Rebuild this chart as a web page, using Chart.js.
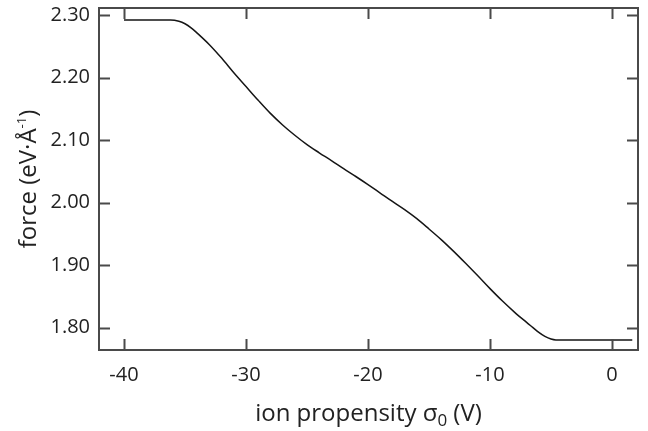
<!DOCTYPE html>
<html>
<head>
<meta charset="utf-8">
<script src="https://cdn.jsdelivr.net/npm/chart.js@4/dist/chart.umd.min.js"></script>
<style>
  body { margin: 0; background: #fff; }
  canvas { display: block; }
</style>
</head>
<body>
<canvas id="force-curve" width="648" height="431"></canvas>
<script>
// ion propensity sigma0 (V) vs force (eV/A)
var sigmaValues = [-40, -36.2, -35.5, -35.0, -34.5, -34.0, -33.0, -32.0, -31.0, -30.0, -29.0, -28.0,
  -27.0, -26.0, -25.0, -24.0, -23.0, -22.0, -21.0, -20.0, -19.0, -18.0, -17.0, -16.0, -15.0,
  -14.0, -13.0, -12.0, -11.0, -10.0, -9.0, -8.0, -7.0, -6.5, -6.0, -5.5, -5.0, -4.6, 1.66];
var forceValues = [2.2925, 2.2925, 2.2905, 2.2865, 2.2800, 2.2715, 2.2530, 2.2315, 2.2080, 2.1860, 2.1640, 2.1430,
  2.1245, 2.1080, 2.0930, 2.0800, 2.0675, 2.0545, 2.0420, 2.0290, 2.0155, 2.0020, 1.9890, 1.9745, 1.9580,
  1.9410, 1.9225, 1.9030, 1.8830, 1.8625, 1.8430, 1.8250, 1.8085, 1.8005, 1.7925, 1.7860, 1.7818, 1.7805, 1.7805];
var xTicks = [-40, -30, -20, -10, 0];
var yTicks = [1.80, 1.90, 2.00, 2.10, 2.20, 2.30];

var points = sigmaValues.map(function (s, i) {
  return { x: s, y: forceValues[i] };
});

var FONT = "'Open Sans', sans-serif";
var INK = '#222222';

// frame with inward ticks on all four sides, plus axis titles with sub/superscripts
var framePlugin = {
  id: 'frame',
  afterDraw: function (chart) {
    var ctx = chart.ctx;
    var a = chart.chartArea;
    var xs = chart.scales.x, ys = chart.scales.y;
    var tl = 11;
    ctx.save();
    ctx.strokeStyle = '#4a4a4a';
    ctx.lineWidth = 2;
    ctx.strokeRect(a.left, a.top, a.right - a.left, a.bottom - a.top);
    ctx.beginPath();
    xTicks.forEach(function (v) {
      var px = Math.round(xs.getPixelForValue(v)) + 0.5;
      ctx.moveTo(px, a.bottom); ctx.lineTo(px, a.bottom - tl);
      ctx.moveTo(px, a.top); ctx.lineTo(px, a.top + tl);
    });
    yTicks.forEach(function (v) {
      var py = Math.round(ys.getPixelForValue(v)) + 0.5;
      ctx.moveTo(a.left, py); ctx.lineTo(a.left + tl, py);
      ctx.moveTo(a.right, py); ctx.lineTo(a.right - tl, py);
    });
    ctx.stroke();

    // x title: ion propensity sigma_0 (V)
    ctx.fillStyle = INK;
    ctx.textBaseline = 'alphabetic';
    var big = '24px ' + FONT, small = '17px ' + FONT, sup = '13px ' + FONT;
    ctx.font = big;
    var p1 = 'ion propensity \u03C3', p3 = ' (V)';
    var w1 = ctx.measureText(p1).width, w3 = ctx.measureText(p3).width;
    ctx.font = small;
    var w2 = ctx.measureText('0').width;
    var cx = (a.left + a.right) / 2;
    var x0 = cx - (w1 + w2 + w3) / 2;
    var base = 421;
    ctx.textAlign = 'left';
    ctx.font = big; ctx.fillText(p1, x0, base);
    ctx.font = small; ctx.fillText('0', x0 + w1, base + 5);
    ctx.font = big; ctx.fillText(p3, x0 + w1 + w2, base);

    // y title: force (eV.A^-1)
    ctx.translate(36, (a.top + a.bottom) / 2);
    ctx.rotate(-Math.PI / 2);
    var q1 = 'force (eV\u00B7\u00C5', q2 = '-1', q3 = ')';
    ctx.font = big;
    var v1 = ctx.measureText(q1).width, v3 = ctx.measureText(q3).width;
    ctx.font = sup;
    var v2 = ctx.measureText(q2).width;
    var y0 = -(v1 + v2 + v3) / 2;
    ctx.font = big; ctx.fillText(q1, y0, 0);
    ctx.font = sup; ctx.fillText(q2, y0 + v1, -10);
    ctx.font = big; ctx.fillText(q3, y0 + v1 + v2, 0);
    ctx.restore();
  }
};

var ctx = document.getElementById('force-curve').getContext('2d');
var chart = new Chart(ctx, {
  type: 'line',
  data: {
    datasets: [{
      data: points,
      borderColor: '#151515',
      borderWidth: 1.5,
      pointRadius: 0,
      cubicInterpolationMode: 'monotone',
      fill: false
    }]
  },
  options: {
    responsive: false,
    devicePixelRatio: 1,
    animation: false,
    layout: { padding: { top: 8, right: 10, left: 0, bottom: 0 } },
    plugins: { legend: { display: false }, tooltip: { enabled: false } },
    scales: {
      x: {
        type: 'linear',
        min: -42.05,
        max: 2.13,
        grid: { display: false, drawTicks: false },
        border: { display: false },
        afterBuildTicks: function (scale) {
          scale.ticks = xTicks.map(function (v) { return { value: v }; });
        },
        afterFit: function (scale) {
          scale.height = 81;
          scale.paddingLeft = 0; scale.paddingRight = 0;
        },
        ticks: {
          padding: 13,
          maxRotation: 0,
          color: INK,
          font: { family: FONT, size: 20 },
          callback: function (v) { return String(v); }
        }
      },
      y: {
        min: 1.7643,
        max: 2.3117,
        grid: { display: false, drawTicks: false },
        border: { display: false },
        afterBuildTicks: function (scale) {
          scale.ticks = yTicks.map(function (v) { return { value: v }; });
        },
        afterFit: function (scale) {
          scale.width = 99;
          scale.paddingTop = 0; scale.paddingBottom = 0;
        },
        ticks: {
          padding: 9,
          color: INK,
          font: { family: FONT, size: 20 },
          callback: function (v) { return v.toFixed(2); }
        }
      }
    }
  },
  plugins: [framePlugin]
});
</script>
</body>
</html>
